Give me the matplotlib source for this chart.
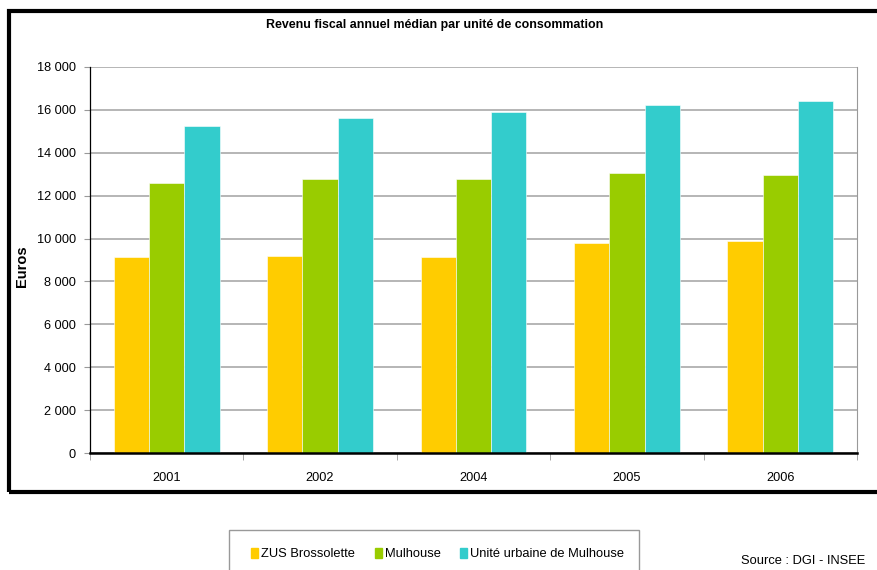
import matplotlib.pyplot as plt
import matplotlib.patches as mpatches
import numpy as np

annees = ['2001', '2002', '2004', '2005', '2006']
zus_brossolette = [9140, 9180, 9140, 9790, 9880]
mulhouse = [12590, 12770, 12770, 13050, 12960]
unite_urbaine = [15240, 15620, 15900, 16220, 16410]
series = ['ZUS Brossolette', 'Mulhouse', 'Unité urbaine de Mulhouse']
couleurs = ['#ffcc00', '#99cc00', '#33cccc']

plt.rcParams['font.family'] = ['Liberation Sans', 'DejaVu Sans']

W, H = 877, 570
fig = plt.figure(figsize=(W / 100, H / 100), dpi=100)

# cadre noir autour du graphique
cadre = mpatches.Rectangle((9 / W, 1 - 492 / H), 1.0, (492 - 11) / H,
                           transform=fig.transFigure, fill=False,
                           edgecolor='black', linewidth=3, clip_on=False)
fig.add_artist(cadre)

ax = fig.add_axes([90 / W, 1 - 453 / H, (857 - 90) / W, (453 - 67) / H])

x = np.arange(len(annees))
largeur = 0.23
for i, (vals, nom, c) in enumerate(zip([zus_brossolette, mulhouse, unite_urbaine], series, couleurs)):
    ax.bar(x + (i - 1) * largeur, vals, largeur, color=c, label=nom,
           edgecolor='white', linewidth=0.4, zorder=3)

ax.set_xlim(-0.5, len(annees) - 0.5)
ax.set_ylim(0, 18000)
ax.set_yticks(range(0, 18001, 2000))
ax.set_yticklabels([f'{v:,}'.replace(',', ' ') for v in range(0, 18001, 2000)], fontsize=9.2)
ax.set_xticks(x)
ax.set_xticklabels(annees, fontsize=9.2)
ax.tick_params(axis='x', length=0, pad=14)
ax.set_xticks(np.arange(-0.5, len(annees)), minor=True)
ax.tick_params(axis='x', which='minor', length=5, color='#999999')
ax.tick_params(axis='y', length=4, color='#999999', pad=6)
ax.grid(axis='y', color='#b0b0b0', linewidth=1.3, zorder=0)

ax.spines['top'].set_visible(False)
ax.spines['right'].set_color('#999999')
ax.spines['left'].set_color('black')
ax.spines['left'].set_linewidth(0.9)
ax.spines['bottom'].set_color('black')
ax.spines['bottom'].set_linewidth(1.8)
ax.spines['bottom'].set_zorder(4)

fig.text(22 / W, 1 - 266 / H, 'Euros', rotation=90, ha='center', va='center',
         fontsize=10.5, fontweight='bold')

fig.text(435 / W, 1 - 25 / H, 'Revenu fiscal annuel médian par unité de consommation',
         ha='center', va='center', fontsize=8.9, fontweight='bold')

# boîte de la légende (coupée en bas)
boite = mpatches.Rectangle((229 / W, -0.05), (639 - 229) / W, (1 - 530 / H) + 0.05,
                           transform=fig.transFigure, fill=False,
                           edgecolor='#999999', linewidth=1.0, clip_on=False)
fig.add_artist(boite)

handles = [mpatches.Patch(color=c, label=n) for c, n in zip(couleurs, series)]
fig.legend(handles=handles, loc='center left',
           bbox_to_anchor=(251 / W, 1 - 554 / H),
           ncol=3, fontsize=9.3, frameon=False,
           handlelength=0.55, handleheight=0.85, handletextpad=0.25,
           columnspacing=1.5, borderpad=0, borderaxespad=0)

fig.text(865 / W, 1 - 561 / H, 'Source : DGI - INSEE', ha='right', va='center', fontsize=9.3)

fig.savefig('out.png', dpi=100)
